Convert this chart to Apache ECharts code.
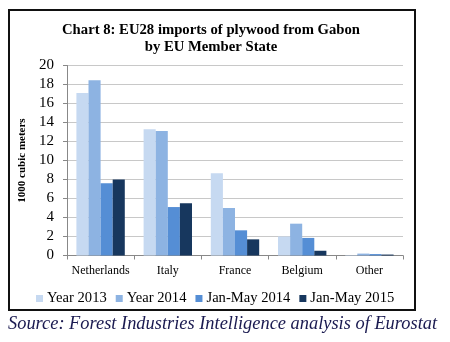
<!DOCTYPE html>
<html><head><meta charset="utf-8">
<script src="https://cdn.jsdelivr.net/npm/echarts@6/dist/echarts.min.js"></script>
<style>html,body{margin:0;padding:0;background:#fff}#c{width:450px;height:342px}</style>
</head><body><div id="c"></div>
<script>
const categories = ['Netherlands', 'Italy', 'France', 'Belgium', 'Other'];
const seriesNames = ['Year 2013', 'Year 2014', 'Jan-May 2014', 'Jan-May 2015'];
const year2013 = [17.1, 13.3, 8.65, 2.0, 0.05];
const year2014 = [18.45, 13.1, 5.0, 3.35, 0.2];
const janMay2014 = [7.6, 5.1, 2.65, 1.85, 0.15];
const janMay2015 = [8.0, 5.5, 1.7, 0.5, 0.1];
const colors = ['#c6d9f1', '#8db3e2', '#558ed5', '#17375e'];
const titleText = 'Chart 8: EU28 imports of plywood from Gabon\nby EU Member State';
const yAxisName = '1000 cubic meters';
const sourceText = 'Source: Forest Industries Intelligence analysis of Eurostat';

const serif = '"Liberation Serif", "DejaVu Serif", serif';
const allData = [year2013, year2014, janMay2014, janMay2015];
const chart = echarts.init(document.getElementById('c'), null, {renderer: 'canvas'});
chart.setOption({
  animation: false,
  color: colors,
  title: {
    text: titleText, left: 206, top: 17, textAlign: 'center',
    textStyle: {fontFamily: serif, fontWeight: 'bold', fontSize: 14.7, lineHeight: 17, color: '#000'}
  },
  grid: {left: 67, right: 47, top: 65.5, bottom: 86.5},
  legend: {
    data: seriesNames, left: 31, top: 286, itemWidth: 7, itemHeight: 7, itemGap: 9,
    icon: 'rect',
    textStyle: {fontFamily: serif, fontSize: 14.6, color: '#000', padding: [0, 0, 0, -1]}
  },
  xAxis: {
    type: 'category', data: categories,
    axisLine: {lineStyle: {color: '#888', width: 1}},
    axisTick: {show: true, length: 4, lineStyle: {color: '#888'}},
    axisLabel: {interval: 0, fontFamily: serif, fontSize: 12, color: '#000', margin: 9}
  },
  yAxis: {
    type: 'value', min: 0, max: 20, interval: 2,
    name: yAxisName, nameLocation: 'middle', nameGap: 35, nameRotate: 90,
    nameTextStyle: {fontFamily: serif, fontWeight: 'bold', fontSize: 11, color: '#000'},
    axisLine: {show: true, lineStyle: {color: '#888'}},
    axisTick: {show: true, length: 4, inside: false, lineStyle: {color: '#888'}},
    axisLabel: {fontFamily: serif, fontSize: 15, color: '#000', margin: 13},
    splitLine: {lineStyle: {color: '#c8c8c8', width: 1}}
  },
  series: seriesNames.map((n, i) => ({
    name: n, type: 'bar', data: allData[i], barGap: '0%', barCategoryGap: '28%',
    itemStyle: {color: colors[i]}
  })),
  graphic: [
    {type: 'rect', shape: {x: 9, y: 10, width: 406, height: 300},
     style: {fill: 'none', stroke: '#111', lineWidth: 2}, z: 100},
    {type: 'text', left: 8, top: 315,
     style: {text: sourceText, font: 'italic 18.4px ' + serif, fill: '#1a1a50'}}
  ]
});
</script></body></html>
